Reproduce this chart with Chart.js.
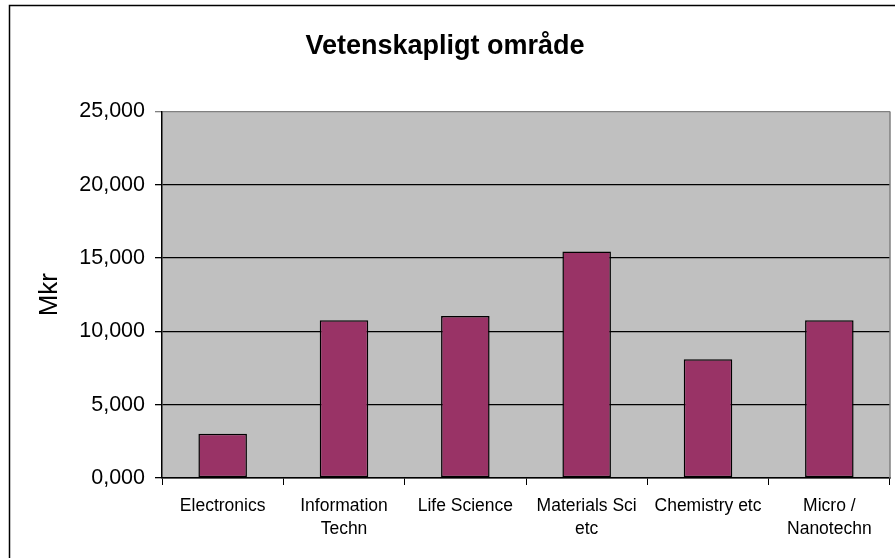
<!DOCTYPE html>
<html>
<head>
<meta charset="utf-8">
<script src="https://cdn.jsdelivr.net/npm/chart.js@4/dist/chart.umd.min.js"></script>
<style>
  html, body { margin: 0; padding: 0; background: #fff; }
  #wrap { width: 895px; height: 558px; }
</style>
</head>
<body>
<div id="wrap"><canvas id="chart" width="895" height="558"></canvas></div>
<script>
// Chart values (Mkr)
const categories = [
    'Electronics',
    ['Information', 'Techn'],
    'Life Science',
    ['Materials Sci', 'etc'],
    'Chemistry etc',
    ['Micro /', 'Nanotechn']
];
const values = [3.02, 10.75, 11.05, 15.45, 8.1, 10.75];
const yTicks = [0, 5, 10, 15, 20, 25];

const FONT = 'Arial, "Liberation Sans", sans-serif';

// Gray plot background and the outer frame round the whole chart
const framePlugin = {
    id: 'frame',
    beforeDraw(chart) {
        const { ctx, chartArea: a } = chart;
        ctx.save();
        ctx.fillStyle = '#fff';
        ctx.fillRect(0, 0, chart.width, chart.height);
        ctx.fillStyle = '#c0c0c0';
        ctx.fillRect(a.left, a.top, a.right - a.left, a.bottom - a.top);
        ctx.restore();
    },
    afterDraw(chart) {
        const { ctx, chartArea: a } = chart;
        ctx.save();
        // right edge of plot area
        ctx.strokeStyle = '#808080';
        ctx.lineWidth = 1.5;
        ctx.beginPath();
        ctx.moveTo(a.right, a.top);
        ctx.lineTo(a.right, a.bottom);
        ctx.stroke();
        // outer frame
        ctx.strokeStyle = '#000';
        ctx.lineWidth = 1.5;
        ctx.strokeRect(9.5, 5.5, 920, 600);
        ctx.restore();
    }
};

new Chart(document.getElementById('chart'), {
    type: 'bar',
    data: {
        labels: categories,
        datasets: [{
            data: values,
            backgroundColor: '#993366',
            borderColor: '#000',
            borderWidth: 1.5,
            borderSkipped: false,
            barPercentage: 0.4,
            categoryPercentage: 1
        }]
    },
    options: {
        responsive: false,
        animation: false,
        layout: { padding: { left: 0, right: 5, top: 0, bottom: 0 } },
        plugins: {
            legend: { display: false },
            tooltip: { enabled: false },
            title: {
                display: true,
                text: 'Vetenskapligt område',
                color: '#000',
                font: { family: FONT, size: 27, weight: 'bold', lineHeight: 1.2 },
                padding: { top: 30, bottom: 49 }
            }
        },
        scales: {
            x: {
                grid: {
                    display: true,
                    drawOnChartArea: false,
                    drawTicks: true,
                    tickLength: 7,
                    color: '#000'
                },
                border: { color: '#000', width: 1.5 },
                ticks: {
                    color: '#000',
                    padding: 10,
                    maxRotation: 0,
                    autoSkip: false,
                    font: { family: FONT, size: 17.5, lineHeight: 1.3 }
                },
                afterFit(scale) { scale.height = 80; }
            },
            y: {
                min: 0,
                max: 25,
                afterBuildTicks(scale) { scale.ticks = yTicks.map(v => ({ value: v })); },
                grid: {
                    color: ctx => (ctx.tick && ctx.tick.value === 25) ? '#808080' : '#000',
                    lineWidth: 1.3,
                    tickLength: 7
                },
                border: { color: '#000', width: 1.5 },
                ticks: {
                    color: '#000',
                    padding: 10,
                    font: { family: FONT, size: 21.5 },
                    callback: v => Number(v).toFixed(3).replace('.', ',')
                },
                title: {
                    display: true,
                    text: 'Mkr',
                    color: '#000',
                    font: { family: FONT, size: 26, lineHeight: 1.2 },
                    padding: { top: 34, bottom: 0 }
                },
                afterFit(scale) { scale.width = 162; }
            }
        }
    },
    plugins: [framePlugin]
});
</script>
</body>
</html>
